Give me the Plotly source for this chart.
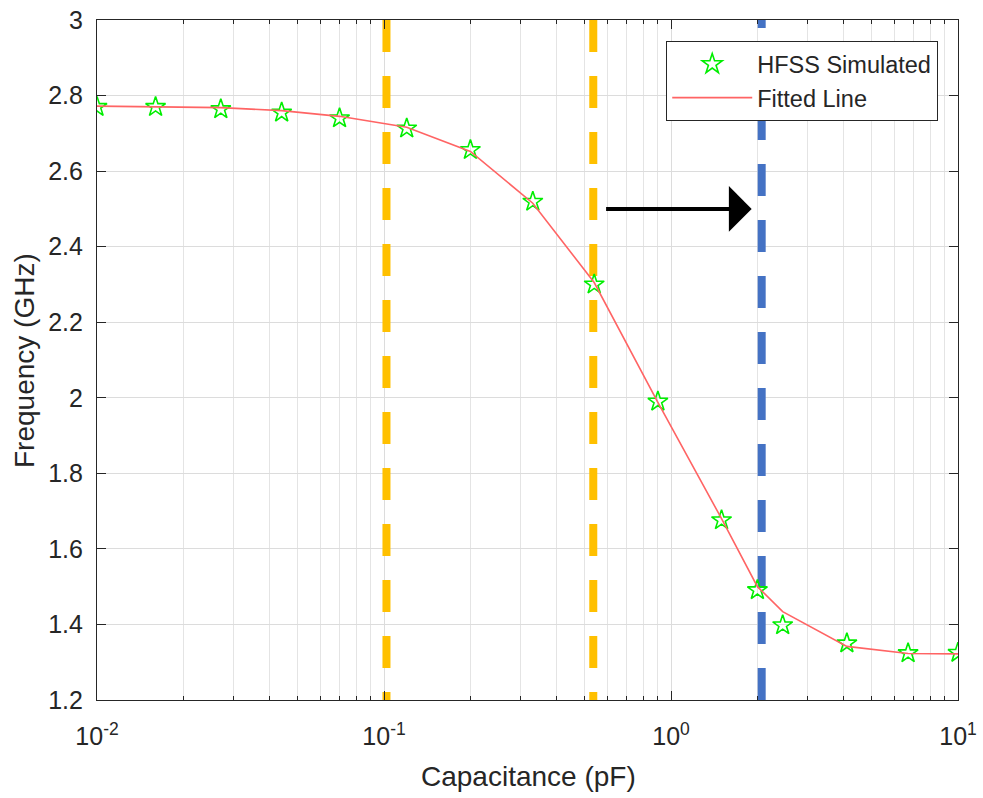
import math
import plotly.graph_objects as go

# HFSS simulated resonance frequency vs. loading capacitance
cap_sim = [0.01, 0.016, 0.027, 0.044, 0.070, 0.12, 0.20, 0.33, 0.54, 0.90, 1.5, 2.0, 2.45, 4.1, 6.7, 10.0]
freq_sim = [2.770, 2.770, 2.764, 2.755, 2.740, 2.713, 2.656, 2.519, 2.300, 1.990, 1.676, 1.491, 1.398, 1.350, 1.324, 1.325]

# fitted curve
cap_fit = [0.01, 0.016, 0.027, 0.044, 0.070, 0.12, 0.20, 0.33, 0.54, 0.90, 1.5, 2.0, 2.45, 4.1, 6.7, 10.0]
freq_fit = [2.772, 2.771, 2.768, 2.760, 2.745, 2.716, 2.652, 2.515, 2.305, 1.988, 1.680, 1.500, 1.434, 1.342, 1.323, 1.322]

# marker lines (capacitance) and the tuning arrow
vlines_orange = [0.102, 0.536]
vline_blue = 2.07
arrow_from, arrow_to, arrow_freq = 0.58, 1.91, 2.5

x_tickvals = [0.01, 0.1, 1, 10]
x_ticktext = ["10<sup>-2</sup>", "10<sup>-1</sup>", "10<sup>0</sup>", "10<sup>1</sup>"]
x_minor = [m * 10 ** e for e in (-2, -1, 0) for m in range(2, 10)]
y_tickvals = [1.2, 1.4, 1.6, 1.8, 2.0, 2.2, 2.4, 2.6, 2.8, 3.0]
y_ticktext = ["1.2", "1.4", "1.6", "1.8", "2", "2.2", "2.4", "2.6", "2.8", "3"]

FONT = "Liberation Sans, Arial, Helvetica, sans-serif"
AX = "#262626"

fig = go.Figure()
fig.add_trace(go.Scatter(
    x=cap_sim, y=freq_sim, mode="markers", name="HFSS Simulated",
    marker=dict(symbol="star-open", size=15, color="#00ee00", line=dict(width=1.6, color="#00ee00")),
))
fig.add_trace(go.Scatter(
    x=cap_fit, y=freq_fit, mode="lines", name="Fitted Line",
    line=dict(color="#ff6464", width=1.6),
))

for xv in vlines_orange:
    fig.add_shape(type="line", xref="x", yref="y", x0=xv, x1=xv, y0=3.0, y1=1.2,
                  line=dict(color="#ffc000", width=8, dash="32px,24px"), layer="between")
fig.add_shape(type="line", xref="x", yref="y", x0=vline_blue, x1=vline_blue, y0=1.2, y1=3.0,
              line=dict(color="#4472c4", width=8, dash="32px,24px"), layer="between")

fig.add_annotation(
    x=math.log10(arrow_to), y=arrow_freq, ax=math.log10(arrow_from), ay=arrow_freq,
    xref="x", yref="y", axref="x", ayref="y", text=" ", showarrow=True,
    arrowhead=1, arrowsize=1.9, arrowwidth=4, arrowcolor="black", standoff=0,
)

fig.add_annotation(text="Frequency (GHz)", xref="paper", yref="paper", x=-0.0848, y=0.5,
                   xanchor="center", yanchor="middle", textangle=-90, showarrow=False,
                   font=dict(family=FONT, size=28, color=AX))
fig.add_annotation(text="Capacitance (pF)", xref="paper", yref="paper", x=0.5006, y=-0.112,
                   xanchor="center", yanchor="middle", showarrow=False,
                   font=dict(family=FONT, size=28, color=AX))

fig.update_xaxes(
    type="log", range=[-2, 1], tickvals=x_tickvals, ticktext=x_ticktext,
    ticks="inside", ticklen=9, tickwidth=1, tickcolor=AX,
    showline=True, linecolor=AX, linewidth=1.2, mirror="ticks",
    showgrid=True, gridcolor="#dcdcdc", gridwidth=1, zeroline=False,
    tickfont=dict(family=FONT, size=25, color=AX), ticklabelstandoff=14,
    automargin=False,
    minor=dict(tickvals=x_minor, ticks="inside", ticklen=4, tickcolor=AX,
               showgrid=True, gridcolor="#e4e4e4", gridwidth=1),
)
fig.update_yaxes(
    range=[1.2, 3.0], tickvals=y_tickvals, ticktext=y_ticktext,
    ticks="inside", ticklen=9, tickwidth=1, tickcolor=AX,
    showline=True, linecolor=AX, linewidth=1.2, mirror="ticks",
    showgrid=True, gridcolor="#dcdcdc", gridwidth=1, zeroline=False,
    tickfont=dict(family=FONT, size=25, color=AX), ticklabelstandoff=8,
    automargin=False,
)

fig.update_layout(
    width=983, height=798,
    margin=dict(l=97, r=25, t=20, b=98),
    paper_bgcolor="white", plot_bgcolor="white",
    showlegend=True,
    legend=dict(x=0.9768, y=0.969, xanchor="right", yanchor="top",
                bgcolor="white", bordercolor=AX, borderwidth=1.2,
                font=dict(family=FONT, size=23.5, color=AX), itemwidth=80,
                tracegroupgap=0),
)

fig.write_html("out.html", config={"displayModeBar": False})
